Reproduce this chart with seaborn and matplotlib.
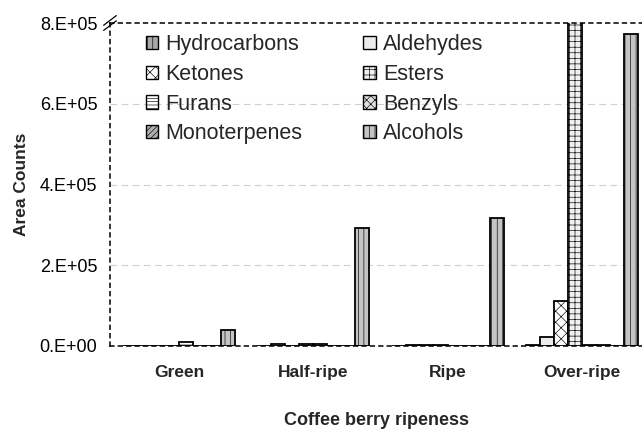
import matplotlib
matplotlib.use("Agg")
import matplotlib.pyplot as plt
from matplotlib.patches import Patch
import seaborn as sns
import pandas as pd

stages = ["Green", "Half-ripe", "Ripe", "Over-ripe"]
classes = ["Hydrocarbons", "Aldehydes", "Ketones", "Esters",
           "Furans", "Benzyls", "Monoterpenes", "Alcohols"]
hydrocarbons = [0, 0, 0, 3.0e3]
aldehydes = [0, 4.0e3, 3.5e3, 2.2e4]
ketones = [0, 0, 3.5e3, 1.11e5]
esters = [0, 4.0e3, 3.5e3, 1.2e6]
furans = [1.0e4, 4.0e3, 0, 3.5e3]
benzyls = [0, 0, 0, 3.5e3]
monoterpenes = [0, 0, 0, 0]
alcohols = [4.0e4, 2.92e5, 3.17e5, 7.72e5]
ytick_vals = [0, 2e5, 4e5, 6e5, 8e5]
ytick_labels = ["0.E+00", "2.E+05", "4.E+05", "6.E+05", "8.E+05"]

series = [hydrocarbons, aldehydes, ketones, esters, furans, benzyls, monoterpenes, alcohols]
rows = []
for cls, vals in zip(classes, series):
    for st, v in zip(stages, vals):
        rows.append({"stage": st, "cls": cls, "value": v})
df = pd.DataFrame(rows)

sns.set_theme(style="white")
plt.rcParams["font.family"] = ["Liberation Sans", "DejaVu Sans"]
plt.rcParams["hatch.linewidth"] = 0.45

styles = {
    "Hydrocarbons": ("#a8a8a8", "|||"),
    "Aldehydes": ("#ececec", "~~~"),
    "Ketones": ("#ffffff", "xxx"),
    "Esters": ("#f0f0f0", "+++"),
    "Furans": ("#ffffff", "-----"),
    "Benzyls": ("#e0e0e0", "xxxx"),
    "Monoterpenes": ("#b0b0b0", "//////"),
    "Alcohols": ("#c4c4c4", "|||"),
}

fig = plt.figure(figsize=(6.42, 4.30), dpi=100)
ax = fig.add_axes([110 / 642, 84 / 430, 532 / 642, 323 / 430])

sns.barplot(data=df, x="stage", y="value", hue="cls", order=stages,
            hue_order=classes, width=0.835, gap=0, dodge=True,
            errorbar=None, ax=ax, legend=False)

for cls, cont in zip(classes, ax.containers):
    fc, hatch = styles[cls]
    for p in cont:
        p.set_facecolor(fc)
        p.set_edgecolor("black")
        p.set_linewidth(1.3)
        p.set_hatch(hatch)
        try:
            p.set_hatchcolor("#555555")
        except Exception:
            pass

ax.set_xlim(-0.514, 3.447)
ax.set_ylim(0, 8e5)
ax.set_yticks(ytick_vals)
ax.set_yticklabels(ytick_labels, fontsize=13)
ax.tick_params(axis="y", direction="inout", length=6, width=0.8, colors="black", pad=6)
ax.tick_params(axis="x", length=0, pad=14)
for lbl in ax.get_xticklabels():
    lbl.set_fontweight("bold")
    lbl.set_fontsize(12.5)

for y in [2e5, 4e5, 6e5]:
    ax.axhline(y, color="#cfcfcf", linestyle=(0, (6, 4)), linewidth=0.8, zorder=0)

for side in ["left", "bottom", "top"]:
    ax.spines[side].set_visible(True)
    ax.spines[side].set_color("black")
    ax.spines[side].set_linestyle((0, (2.5, 3)))
    ax.spines[side].set_linewidth(1.1)
ax.spines["right"].set_visible(False)

ax.set_xlabel("Coffee berry ripeness", fontsize=13, fontweight="bold", labelpad=23)
ax.set_ylabel("Area Counts", fontsize=12.5, fontweight="bold", labelpad=8)

# axis break marker
for dy in (-0.008, 0.008):
    ax.plot([-0.012, 0.012], [0.985 + dy, 1.015 + dy], transform=ax.transAxes,
            color="black", linewidth=0.9, clip_on=False)

order = ["Hydrocarbons", "Ketones", "Furans", "Monoterpenes",
         "Aldehydes", "Esters", "Benzyls", "Alcohols"]
handles = [Patch(facecolor=styles[c][0], hatch=styles[c][1], edgecolor="black",
                 linewidth=1.0, label=c) for c in order]
ax.legend(handles=handles, ncol=2, loc="upper left", bbox_to_anchor=(0.055, 0.985),
          frameon=False, fontsize=15.5, handlelength=0.58, handleheight=0.58,
          handletextpad=0.35, columnspacing=2.8, labelspacing=0.4, borderaxespad=0.1,
          borderpad=0.2)

fig.savefig("out.png", dpi=100)
